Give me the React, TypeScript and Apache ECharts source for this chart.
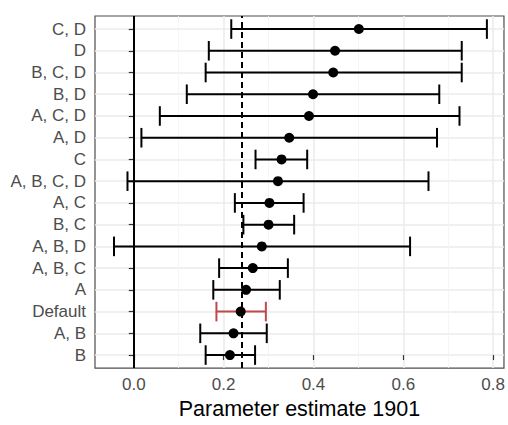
import React, { useEffect, useRef } from "react";
import * as echarts from "echarts";

// Categories from bottom to top
const categories = [
  "B", "A, B", "Default", "A", "A, B, C", "A, B, D", "B, C", "A, C",
  "A, B, C, D", "C", "A, D", "A, C, D", "B, D", "B, C, D", "D", "C, D",
];
const estimates = [
  0.214, 0.222, 0.238, 0.25, 0.265, 0.285, 0.3, 0.302,
  0.321, 0.329, 0.346, 0.39, 0.399, 0.444, 0.448, 0.501,
];
const lower = [
  0.16, 0.148, 0.184, 0.177, 0.19, -0.044, 0.244, 0.225,
  -0.014, 0.271, 0.017, 0.058, 0.118, 0.16, 0.167, 0.217,
];
const upper = [
  0.27, 0.296, 0.294, 0.325, 0.343, 0.615, 0.357, 0.378,
  0.656, 0.386, 0.675, 0.725, 0.68, 0.73, 0.73, 0.786,
];
const referenceValue = 0.238;
const highlighted = "Default";
const xMajorTicks = [0, 0.2, 0.4, 0.6, 0.8];
const xMinorTicks = [0.1, 0.3, 0.5, 0.7];
const xTitle = "Parameter estimate 1901";

const FONT = "'Liberation Sans', Arial, sans-serif";

export default function App() {
  const ref = useRef<HTMLDivElement>(null);
  useEffect(() => {
    if (!ref.current) return;
    const chart = echarts.init(ref.current, null, { renderer: "svg" });
    const idx = categories.map((_, i) => i);
    const errData = idx.map((i) => [i, lower[i], upper[i]]);
    const pointData = idx.map((i) => [estimates[i], i]);
    const option: any = {
      animation: false,
      backgroundColor: "#ffffff",
      grid: {
        left: 95,
        top: 16,
        right: 2,
        bottom: 46,
        show: true,
        borderColor: "#4d4d4d",
        borderWidth: 1.2,
        backgroundColor: "transparent",
        containLabel: false,
      },
      xAxis: [
        {
          type: "value",
          min: -0.0863,
          max: 0.824,
          name: xTitle,
          nameLocation: "middle",
          nameGap: 25,
          nameTextStyle: { color: "#000", fontSize: 21.5, fontFamily: FONT },
          axisLine: { show: false },
          axisTick: {
            show: true,
            customValues: xMajorTicks,
            length: 5,
            lineStyle: { color: "#333", width: 1.2 },
          },
          axisLabel: {
            customValues: xMajorTicks,
            formatter: (v: number) => v.toFixed(1),
            color: "#4d4d4d",
            fontSize: 17,
            fontFamily: FONT,
            margin: 8,
          },
          splitLine: { show: true, lineStyle: { color: "#ebebeb", width: 1.5 } },
        },
        {
          type: "value",
          min: -0.0863,
          max: 0.824,
          position: "bottom",
          axisLine: { show: false },
          axisTick: { show: false, customValues: xMinorTicks },
          axisLabel: { show: false, customValues: xMinorTicks },
          splitLine: { show: true, lineStyle: { color: "#f2f2f2", width: 0.8 } },
        },
      ],
      yAxis: {
        type: "value",
        min: -0.6,
        max: categories.length - 1 + 0.6,
        axisLine: { show: false },
        axisTick: {
          show: true,
          customValues: idx,
          length: 5,
          lineStyle: { color: "#333", width: 1.2 },
        },
        axisLabel: {
          customValues: idx,
          formatter: (v: number) => categories[Math.round(v)] ?? "",
          color: "#4d4d4d",
          fontSize: 17,
          fontFamily: FONT,
          margin: 9,
        },
        splitLine: { show: true, lineStyle: { color: "#ebebeb", width: 1.5 } },
      },
      series: [
        {
          type: "custom",
          xAxisIndex: 0,
          yAxisIndex: 0,
          z: 3,
          data: errData,
          encode: { x: [1, 2], y: 0 },
          renderItem: (params: any, api: any) => {
            const i = api.value(0);
            const lo = api.value(1);
            const hi = api.value(2);
            const p1 = api.coord([lo, i]);
            const p2 = api.coord([hi, i]);
            const half = api.size([0, 0.45])[1];
            const color = categories[i] === highlighted ? "#c0474a" : "#000000";
            const style = { stroke: color, lineWidth: 2 };
            return {
              type: "group",
              children: [
                { type: "line", shape: { x1: p1[0], y1: p1[1], x2: p2[0], y2: p2[1] }, style },
                { type: "line", shape: { x1: p1[0], y1: p1[1] - half, x2: p1[0], y2: p1[1] + half }, style },
                { type: "line", shape: { x1: p2[0], y1: p2[1] - half, x2: p2[0], y2: p2[1] + half }, style },
              ],
            };
          },
          markLine: {
            silent: true,
            symbol: "none",
            label: { show: false },
            data: [
              { xAxis: 0, lineStyle: { color: "#000", width: 2, type: "solid", opacity: 1 } },
              { xAxis: referenceValue, lineStyle: { color: "#000", width: 2, type: [6, 4], opacity: 1 } },
            ],
          },
        },
        {
          type: "scatter",
          xAxisIndex: 0,
          yAxisIndex: 0,
          z: 4,
          symbol: "circle",
          symbolSize: 10,
          itemStyle: { color: "#000000", opacity: 1 },
          data: pointData,
        },
      ],
    };
    chart.setOption(option);
    return () => chart.dispose();
  }, []);
  return (
    <div
      ref={ref}
      style={{ position: "absolute", left: 0, top: 0, width: 508, height: 425 }}
    />
  );
}
